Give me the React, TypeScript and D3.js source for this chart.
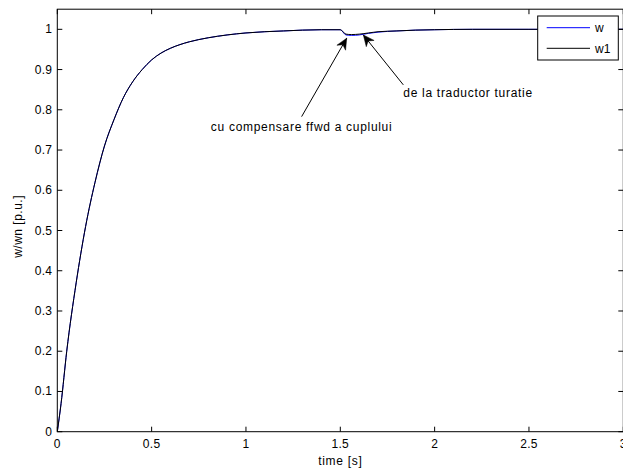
import React from 'react';
import * as d3 from 'd3';

// time samples [s]
const time = [0, 0.02, 0.05, 0.1, 0.15, 0.2, 0.25, 0.3, 0.35, 0.4, 0.45, 0.5, 0.55, 0.6, 0.65, 0.7, 0.8, 0.9, 1.0, 1.2, 1.4, 1.5, 1.53, 1.56, 1.6, 1.65, 1.7, 1.8, 1.9, 2.0, 2.2, 2.5, 3.0];
// w (blue) - speed from the transducer
const wValues = [0, 0.07, 0.2, 0.37, 0.51, 0.62, 0.71, 0.775, 0.83, 0.87, 0.9, 0.924, 0.941, 0.953, 0.962, 0.969, 0.979, 0.986, 0.991, 0.996, 0.999, 0.999, 0.986, 0.985, 0.986, 0.99, 0.993, 0.996, 0.998, 0.999, 1.0, 1.0, 1.0];
// w1 (black) - with feed-forward torque compensation
const w1Values = [0, 0.07, 0.2, 0.37, 0.51, 0.62, 0.71, 0.775, 0.83, 0.87, 0.9, 0.924, 0.941, 0.953, 0.962, 0.969, 0.979, 0.986, 0.991, 0.996, 0.999, 0.999, 0.988, 0.987, 0.988, 0.991, 0.994, 0.996, 0.998, 0.999, 1.0, 1.0, 1.0];

const xTicks = [0, 0.5, 1, 1.5, 2, 2.5, 3];
const yTicks = [0, 0.1, 0.2, 0.3, 0.4, 0.5, 0.6, 0.7, 0.8, 0.9, 1];

// annotations: tip and tail in data units
const annotations = [
  { text: 'cu compensare ffwd a cuplului', tip: [1.534, 0.978], tail: [1.295, 0.783], anchor: 'middle', dy: 14 },
  { text: 'de la traductor turatie', tip: [1.622, 0.986], tail: [1.834, 0.862], anchor: 'start', dy: 12 },
];

const W = 623;
const H = 470;
const left = 57.3;
const right = 623.3;
const top = 9.2;
const bottom = 431.7;
const font = "'Liberation Sans', Arial, Helvetica, sans-serif";

const App = () => {
  const x = d3.scaleLinear().domain([0, 3]).range([left, right]);
  const y = d3.scaleLinear().domain([0, 1.05]).range([bottom, top]);

  const line = d3
    .line<number>()
    .x((_, i) => x(time[i]))
    .y(d => y(d))
    .curve(d3.curveMonotoneX);

  const arrowHead = (tip: number[], tail: number[]) => {
    const tx = x(tip[0]);
    const ty = y(tip[1]);
    const ang = Math.atan2(y(tail[1]) - ty, x(tail[0]) - tx);
    const len = 11;
    const half = 5;
    const ux = Math.cos(ang);
    const uy = Math.sin(ang);
    const px = -uy;
    const py = ux;
    const bx = tx + ux * len;
    const by = ty + uy * len;
    const nx = tx + ux * len * 0.7;
    const ny = ty + uy * len * 0.7;
    return `M${tx},${ty}L${bx + px * half},${by + py * half}L${nx},${ny}L${bx - px * half},${by - py * half}Z`;
  };

  return (
    <div style={{ position: 'fixed', left: 0, top: 0, width: W, height: H, background: '#fff' }}>
      <svg width={W} height={H} style={{ display: 'block' }} fontFamily={font}>
        <rect width={W} height={H} fill="#fff" />
        <defs>
          <clipPath id="plot">
            <rect x={left} y={top} width={right - left} height={bottom - top} />
          </clipPath>
        </defs>

        {/* curves */}
        <g clipPath="url(#plot)">
          <path d={line(wValues) || ''} fill="none" stroke="#0000ff" strokeWidth={1} />
          <path d={line(w1Values) || ''} fill="none" stroke="#000" strokeWidth={1} />
        </g>

        {/* box */}
        <rect x={left} y={top} width={right - left} height={bottom - top} fill="none" stroke="#000" strokeWidth={1} />

        {/* x ticks */}
        {xTicks.map(t => (
          <g key={'x' + t}>
            <line x1={x(t)} x2={x(t)} y1={bottom} y2={bottom - 5} stroke="#000" />
            <line x1={x(t)} x2={x(t)} y1={top} y2={top + 5} stroke="#000" />
            <text x={x(t)} y={bottom + 16} textAnchor="middle" fontSize={12} letterSpacing={0.3}>
              {t}
            </text>
          </g>
        ))}

        {/* y ticks */}
        {yTicks.map(t => (
          <g key={'y' + t}>
            <line x1={left} x2={left + 5} y1={y(t)} y2={y(t)} stroke="#000" />
            <line x1={right} x2={right - 5} y1={y(t)} y2={y(t)} stroke="#000" />
            <text x={left - 5} y={y(t) + 4} textAnchor="end" fontSize={12} letterSpacing={0.3}>
              {t}
            </text>
          </g>
        ))}

        {/* axis labels */}
        <text x={(left + right) / 2} y={465} textAnchor="middle" fontSize={12} letterSpacing={0.7}>
          time [s]
        </text>
        <text
          transform={`translate(22, ${(top + bottom) / 2 + 6}) rotate(-90)`}
          textAnchor="middle"
          fontSize={12}
          letterSpacing={0.5}
        >
          w/wn [p.u.]
        </text>

        {/* annotations */}
        {annotations.map(a => (
          <g key={a.text}>
            <line
              x1={x(a.tail[0])}
              y1={y(a.tail[1])}
              x2={x(a.tip[0])}
              y2={y(a.tip[1])}
              stroke="#000"
              strokeWidth={1}
            />
            <path d={arrowHead(a.tip, a.tail)} fill="#000" stroke="#000" strokeWidth={0.5} />
            <text
              x={x(a.tail[0])}
              y={y(a.tail[1]) + a.dy}
              textAnchor={a.anchor}
              fontSize={12}
              letterSpacing={0.7}
            >
              {a.text}
            </text>
          </g>
        ))}

        {/* legend */}
        <g>
          <rect x={537.7} y={16} width={80.6} height={44} fill="#fff" stroke="#000" />
          <line x1={546.7} x2={590} y1={27.7} y2={27.7} stroke="#0000ff" />
          <text x={595} y={32} fontSize={12}>w</text>
          <line x1={546.7} x2={590} y1={48.3} y2={48.3} stroke="#000" />
          <text x={595} y={52.5} fontSize={12}>w1</text>
        </g>
      </svg>
    </div>
  );
};

export default App;
